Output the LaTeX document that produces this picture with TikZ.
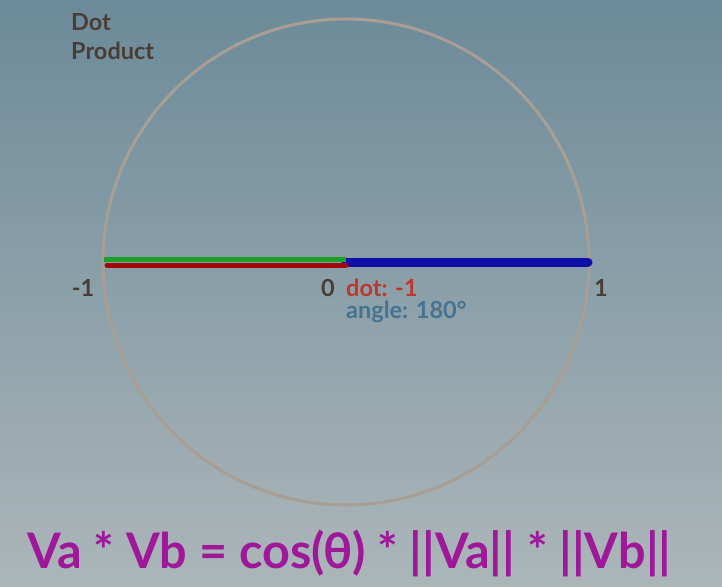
\documentclass[tikz,border=0pt]{standalone}
\usepackage{fontspec}
\setmainfont{Lato}
\definecolor{bgtop}{RGB}{108,138,153}
\definecolor{bgbot}{RGB}{172,182,185}
\definecolor{ring}{RGB}{168,158,148}
\definecolor{darktext}{RGB}{72,62,52}
\definecolor{dotred}{RGB}{190,55,45}
\definecolor{angblue}{RGB}{70,115,145}
\definecolor{vgreen}{RGB}{30,160,40}
\definecolor{vred}{RGB}{160,10,10}
\definecolor{vblue}{RGB}{14,14,168}
\definecolor{formula}{RGB}{160,24,154}
\begin{document}
\begin{tikzpicture}[x=1pt,y=-1pt,
  lbl/.style={inner sep=0pt,font=\fontsize{23.5}{29}\selectfont\bfseries},
  axis/.style={lbl,text=darktext}]
\shade[top color=bgtop,bottom color=bgbot] (0,0) rectangle (722,586);
\useasboundingbox (0,0) rectangle (722,586);
\coordinate (c) at (346,262);
\draw[ring,line width=3pt] (c) circle[radius=243pt];
\coordinate (r) at (588,262);
\coordinate (gl) at (104,259);
\coordinate (gr) at (346,259);
\coordinate (rl) at (107,265);
\coordinate (rr) at (346,265);
\draw[vblue,line width=9pt,line cap=round] (c) -- (r);
\draw[vgreen,line width=5pt] (gl) -- (gr);
\draw[vred,line width=5pt,line cap=round] (rl) -- (rr);
\node[axis,anchor=north west,align=left] (dp) at (71,13) {Dot\\Product};
\node[axis] (m1) at (83,288) {-1};
\node[axis] (z) at (328,288) {0};
\node[axis] (p1) at (601,288) {1};
\node[lbl,anchor=west,text=dotred] (dot) at (346,288) {dot: -1};
\node[lbl,anchor=west,text=angblue] (ang) at (346,312) {angle: 180°};
\node[inner sep=0pt,anchor=base west,text=formula,font=\fontsize{49}{50}\selectfont\bfseries] (f) at (27,568) {\resizebox{644pt}{\height}{Va * Vb = cos(θ) * ||Va|| * ||Vb||}};
\end{tikzpicture}
\end{document}
